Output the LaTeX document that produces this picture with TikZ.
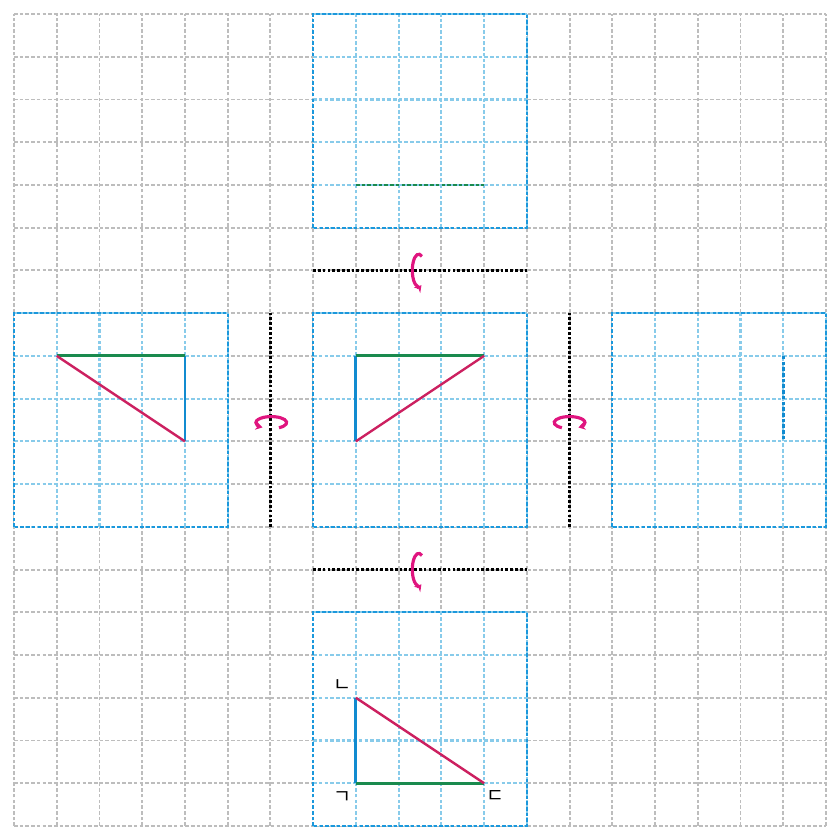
\documentclass[tikz,border=0pt]{standalone}
\usepackage{fontspec}
\newfontfamily\krfont{Noto Sans CJK KR}
\usetikzlibrary{arrows.meta}
\definecolor{gridgray}{HTML}{BDBDBD}
\definecolor{panelblue}{HTML}{1B98DC}
\definecolor{lightblue}{HTML}{88CBEA}
\definecolor{solidblue}{HTML}{118BD0}
\definecolor{triGreen}{HTML}{1A8A4E}
\definecolor{triRed}{HTML}{CC2060}
\definecolor{rotpink}{HTML}{E0157F}
\tikzset{
  gridline/.style={gridgray, line width=1.3pt, dash pattern=on 2.4pt off 1.4pt},
  panelgrid/.style={lightblue, line width=1.4pt, dash pattern=on 2.4pt off 1.4pt},
  panelborder/.style={panelblue, line width=1.4pt, dash pattern=on 2.4pt off 1.4pt},
  axisline/.style={black, line width=1.6pt, dash pattern=on 1.8pt off 1.4pt},
  blueside/.style={solidblue, line width=1.9pt},
  greenside/.style={triGreen, line width=1.9pt},
  redside/.style={triRed, line width=1.6pt},
  greenedge/.style={triGreen, line width=1.7pt, dash pattern=on 2.4pt off 1.4pt},
  blueedge/.style={solidblue, line width=1.7pt, dash pattern=on 2.4pt off 1.4pt},
  rotarrow/.style={rotpink, line width=2.1pt, -{Stealth[length=4.5pt,width=5.5pt]}},
  klabel/.style={font=\krfont\fontsize{13}{13}\selectfont, inner sep=0pt}
}
\begin{document}
\begin{tikzpicture}[x=1cm,y=1cm]
\useasboundingbox (-0.328,-0.328) rectangle (19.328,19.328);
\fill[white] (-0.328,-0.328) rectangle (19.328,19.328);
\draw[gridline] (0,0) grid (19,19);
% panels
\foreach \px/\py in {7/14, 7/7, 0/7, 14/7, 7/0}{
  \fill[white] (\px,\py) rectangle ({\px+5},{\py+5});
  \draw[panelgrid] (\px,\py) grid ({\px+5},{\py+5});
  \draw[panelborder] (\px,\py) rectangle ({\px+5},{\py+5});
}
% axes
\coordinate (at1) at (7,13); \coordinate (at2) at (12,13);
\coordinate (ab1) at (7,6); \coordinate (ab2) at (12,6);
\coordinate (al1) at (6,7); \coordinate (al2) at (6,12);
\coordinate (ar1) at (13,7); \coordinate (ar2) at (13,12);
\draw[axisline] (at1) -- (at2);
\draw[axisline] (ab1) -- (ab2);
\draw[axisline] (al1) -- (al2);
\draw[axisline] (ar1) -- (ar2);
% rotation arrows
\coordinate (rt) at (9.47,13);
\coordinate (rb) at (9.47,6);
\coordinate (rl) at (6.02,9.44);
\coordinate (rr) at (13.0,9.44);
\draw[rotarrow] ([shift={(60:0.15 and 0.38)}]rt) arc[start angle=60, end angle=295, x radius=0.15, y radius=0.38];
\draw[rotarrow] ([shift={(60:0.15 and 0.38)}]rb) arc[start angle=60, end angle=295, x radius=0.15, y radius=0.38];
\draw[rotarrow] ([shift={(-60:0.36 and 0.14)}]rl) arc[start angle=-60, end angle=235, x radius=0.36, y radius=0.14];
\draw[rotarrow] ([shift={(240:0.36 and 0.14)}]rr) arc[start angle=240, end angle=-55, x radius=0.36, y radius=0.14];
% middle triangle
\coordinate (mA) at (8,11); \coordinate (mB) at (8,9); \coordinate (mC) at (11,11);
\draw[blueside] (mA) -- (mB);
\draw[greenside] (mA) -- (mC);
\draw[redside] (mB) -- (mC);
% left triangle
\coordinate (lA) at (4,11); \coordinate (lB) at (4,9); \coordinate (lC) at (1,11);
\draw[blueside] (lA) -- (lB);
\draw[greenside] (lA) -- (lC);
\draw[redside] (lB) -- (lC);
% bottom triangle
\coordinate (bA) at (8,1); \coordinate (bB) at (8,3); \coordinate (bC) at (11,1);
\draw[blueside] (bA) -- (bB);
\draw[greenside] (bA) -- (bC);
\draw[redside] (bB) -- (bC);
% top view (edge)
\coordinate (tA) at (8,15); \coordinate (tC) at (11,15);
\draw[greenedge] (tA) -- (tC);
% right view (edge)
\coordinate (sA) at (18,11); \coordinate (sB) at (18,9);
\draw[blueedge] (sA) -- (sB);
% labels
\node[klabel] (lb1) at (7.68,3.28) {ㄴ};
\node[klabel] (lb2) at (7.68,0.66) {ㄱ};
\node[klabel] (lb3) at (11.27,0.70) {ㄷ};
\end{tikzpicture}
\end{document}
